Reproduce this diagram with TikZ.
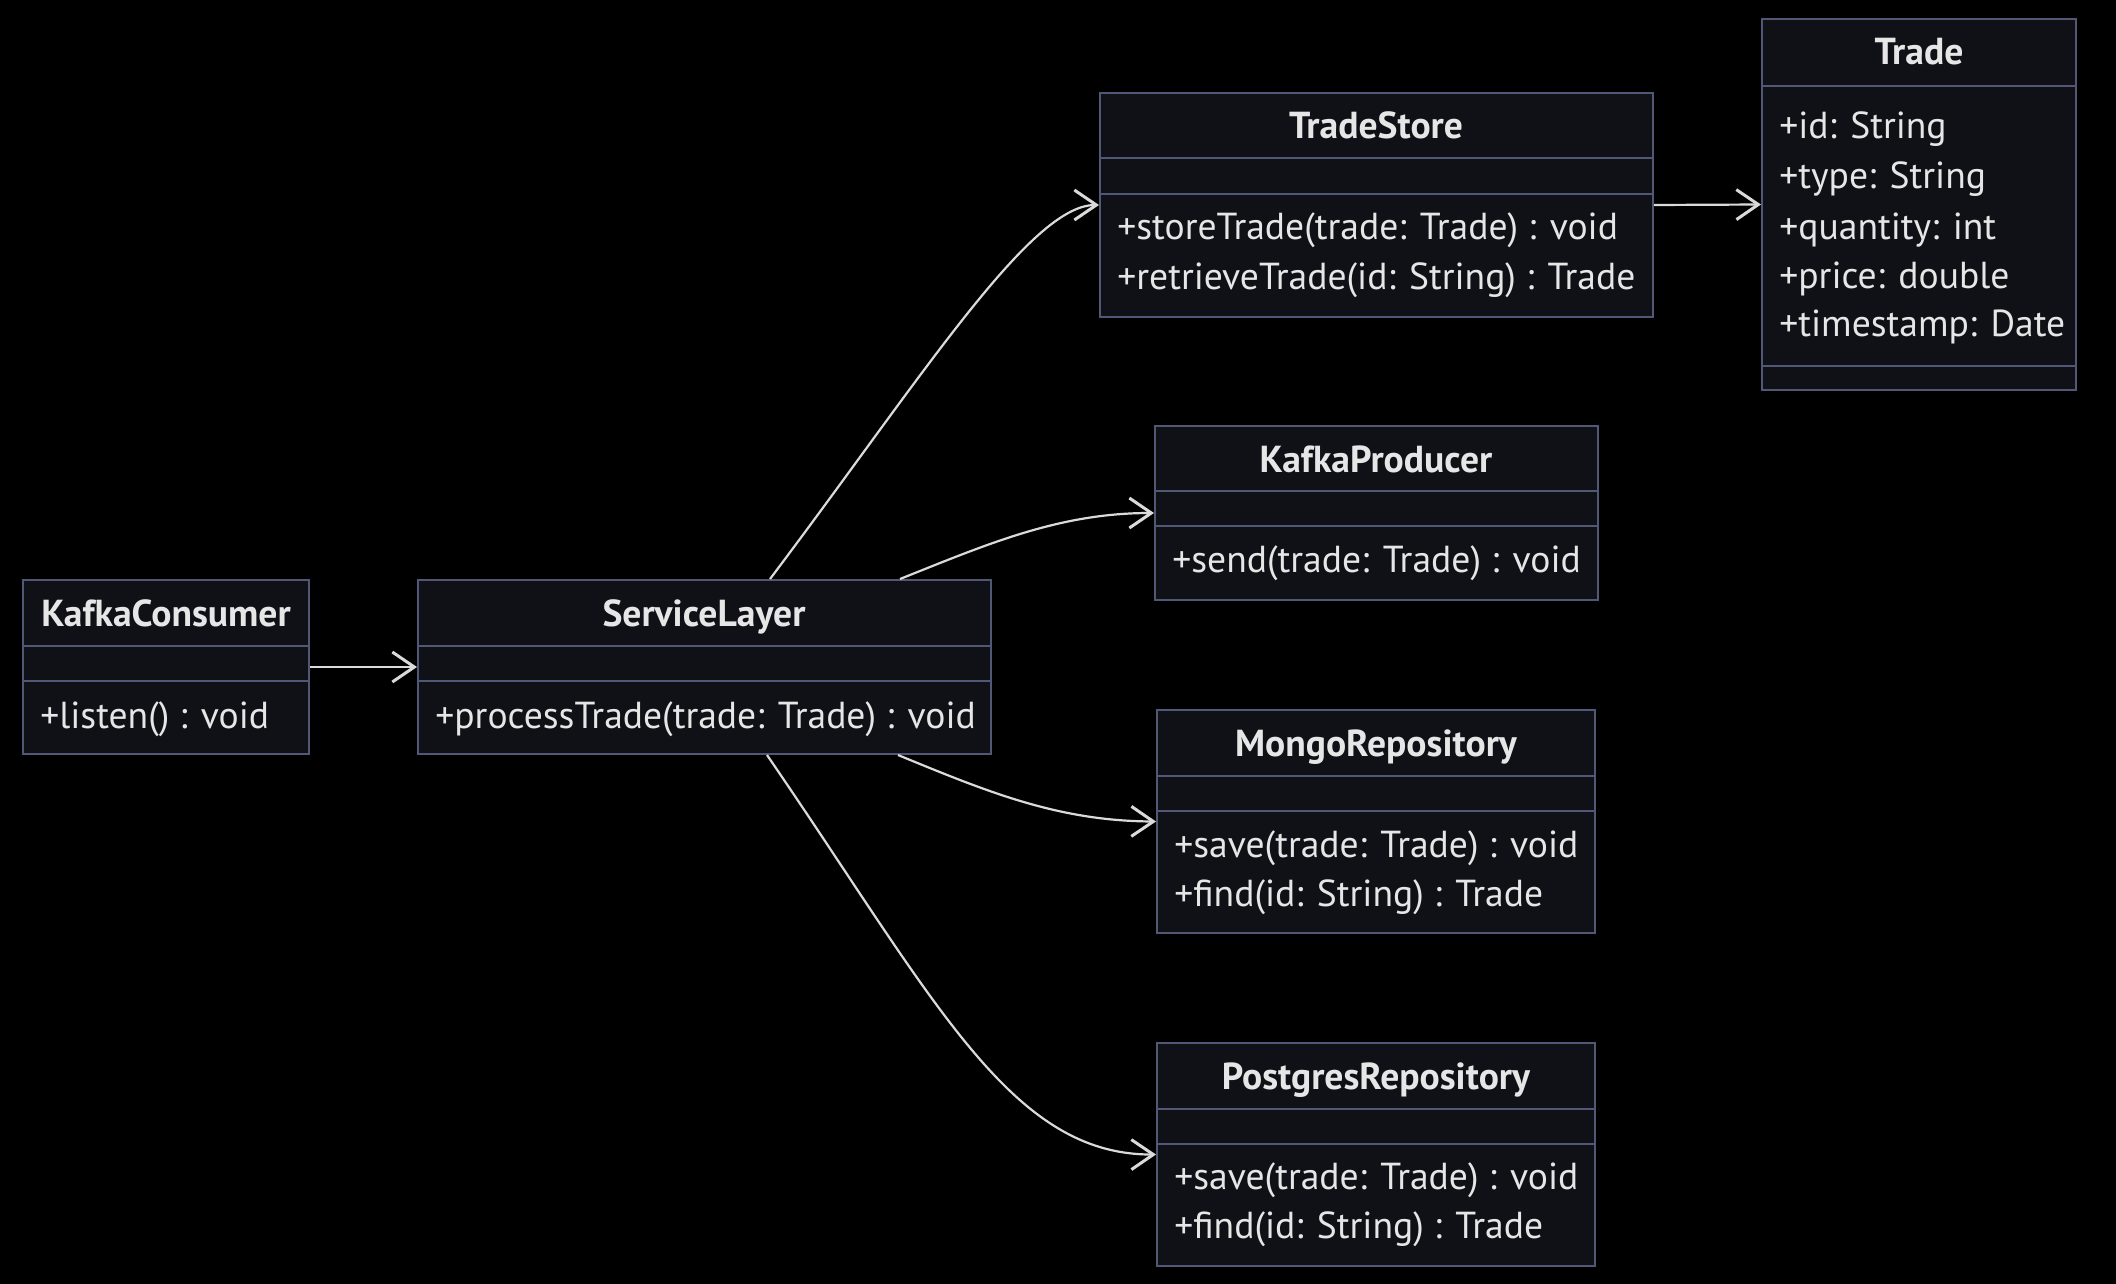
\documentclass[tikz,border=0pt]{standalone}
\usepackage{fontspec}
\setmainfont{PT Sans}
\usetikzlibrary{arrows.meta,fit}
\definecolor{bg}{RGB}{0,0,0}
\definecolor{boxfill}{RGB}{16,17,23}
\definecolor{boxline}{RGB}{80,88,118}
\definecolor{txt}{RGB}{230,230,230}
\definecolor{edgecol}{RGB}{218,218,218}
\tikzset{
  cls/.style={draw=boxline, fill=boxfill, line width=1pt, inner sep=0pt},
  divline/.style={draw=boxline, line width=1pt},
  title/.style={text=txt, anchor=base, inner sep=0pt, font=\fontsize{18.8pt}{22pt}\selectfont\bfseries},
  member/.style={text=txt, anchor=base west, inner sep=0pt, font=\fontsize{18.8pt}{22pt}\selectfont},
  edge/.style={draw=edgecol, line width=1.1pt, -{Straight Barb[length=11pt,width=15pt,line width=1.5pt]}},
}
\begin{document}
\begin{tikzpicture}[x=0.5pt,y=-0.5pt]
\path[fill=bg] (0,0) rectangle (2116,1284);
\useasboundingbox (0,0) rectangle (2116,1284);

% KafkaConsumer
\node[cls, fit={(23,580) (309,754)}] (kc) {};
\draw[divline] (23,646) -- (309,646);
\draw[divline] (23,681) -- (309,681);
\node[title] (kct) at (166,626) {KafkaConsumer};
\node[member] (kcm) at (40,728) {+listen() : void};

% ServiceLayer
\node[cls, fit={(418,580) (991,754)}] (sl) {};
\draw[divline] (418,646) -- (991,646);
\draw[divline] (418,681) -- (991,681);
\node[title] (slt) at (704,626) {ServiceLayer};
\node[member] (slm) at (435,728) {+processTrade(trade: Trade) : void};

% TradeStore
\node[cls, fit={(1100,93) (1653,317)}] (ts) {};
\draw[divline] (1100,158) -- (1653,158);
\draw[divline] (1100,194) -- (1653,194);
\node[title] (tst) at (1376,139) {TradeStore};
\node[member] (tsm1) at (1117,239) {+storeTrade(trade: Trade) : void};
\node[member] (tsm2) at (1117,289) {+retrieveTrade(id: String) : Trade};

% Trade
\node[cls, fit={(1762,19) (2076,390)}] (tr) {};
\draw[divline] (1762,86) -- (2076,86);
\draw[divline] (1762,366) -- (2076,366);
\node[title] (trt) at (1919,65) {Trade};
\node[member] (tra1) at (1779,139) {+id: String};
\node[member] (tra2) at (1779,189) {+type: String};
\node[member] (tra3) at (1779,239) {+quantity: int};
\node[member] (tra4) at (1779,288) {+price: double};
\node[member] (tra5) at (1779,336) {+timestamp: Date};

% KafkaProducer
\node[cls, fit={(1155,426) (1598,600)}] (kp) {};
\draw[divline] (1155,491) -- (1598,491);
\draw[divline] (1155,526) -- (1598,526);
\node[title] (kpt) at (1376,472) {KafkaProducer};
\node[member] (kpm) at (1172,572) {+send(trade: Trade) : void};

% MongoRepository
\node[cls, fit={(1157,710) (1595,933)}] (mr) {};
\draw[divline] (1157,776) -- (1595,776);
\draw[divline] (1157,811) -- (1595,811);
\node[title] (mrt) at (1376,756) {MongoRepository};
\node[member] (mrm1) at (1174,857) {+save(trade: Trade) : void};
\node[member] (mrm2) at (1174,906) {+find(id: String) : Trade};

% PostgresRepository
\node[cls, fit={(1157,1043) (1595,1266)}] (pr) {};
\draw[divline] (1157,1109) -- (1595,1109);
\draw[divline] (1157,1144) -- (1595,1144);
\node[title] (prt) at (1376,1089) {PostgresRepository};
\node[member] (prm1) at (1174,1189) {+save(trade: Trade) : void};
\node[member] (prm2) at (1174,1238) {+find(id: String) : Trade};

% connectors
\draw[edge] (kc.east) -- (sl.west);
\draw[edge] (ts.east) -- (tr.west);
\draw[edge] ([shift={(65.5,0)}]sl.north) .. controls (920,380) and (1030,205) .. (ts.west);
\draw[edge] ([shift={(195.5,0)}]sl.north) .. controls (990,543) and (1060,513) .. (kp.west);
\draw[edge] ([shift={(193.5,0)}]sl.south) .. controls (988,792) and (1058,821) .. (mr.west);
\draw[edge] ([shift={(62.5,0)}]sl.south) .. controls (935,1000) and (1010,1155) .. (pr.west);
\end{tikzpicture}
\end{document}
